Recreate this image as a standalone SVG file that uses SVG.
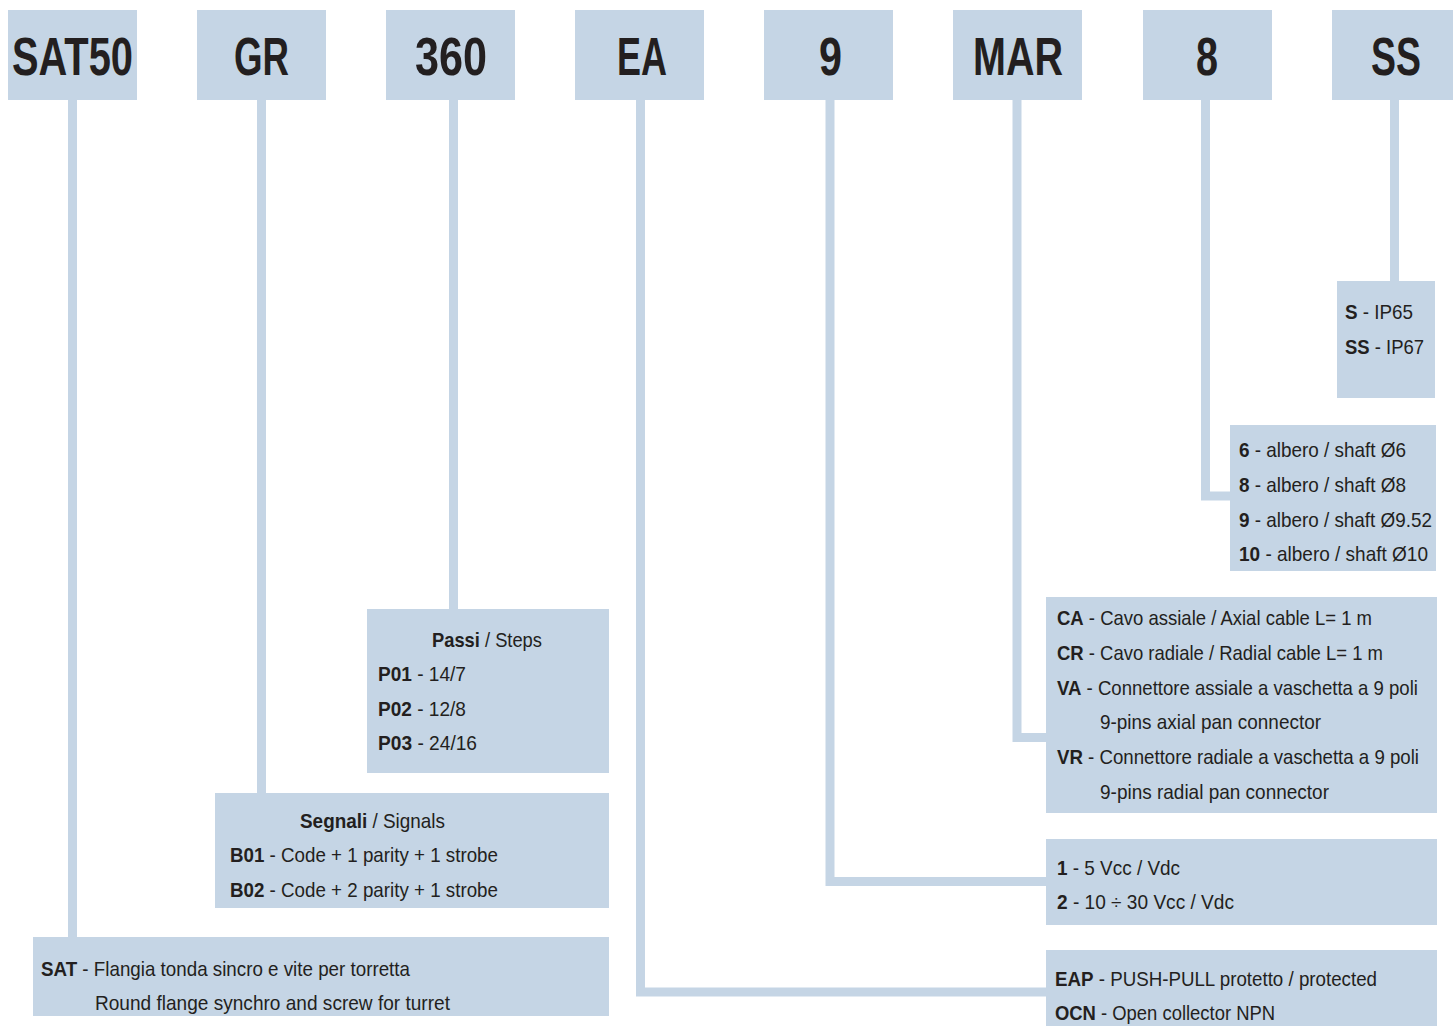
<svg xmlns="http://www.w3.org/2000/svg" width="1453" height="1026" viewBox="0 0 1453 1026">
<style>
.box{fill:#c5d5e5}
.ln{fill:none;stroke:#c5d5e5;stroke-width:9;stroke-linecap:butt;stroke-linejoin:miter}
.t{font-family:"Liberation Sans",Arial,sans-serif;font-size:21px;fill:#231f20}
.h{font-family:"Liberation Sans",Arial,sans-serif;font-size:54px;font-weight:bold;fill:#231f20}
.b{font-weight:bold}
</style>
<rect width="1453" height="1026" fill="#ffffff"/>
<g id="connectors">
<path class="ln" d="M72.5,100 V937"/>
<path class="ln" d="M261.5,100 V793"/>
<path class="ln" d="M453.5,100 V609"/>
<path class="ln" d="M640.5,100 V992 H1047"/>
<path class="ln" d="M830,100 V881.5 H1047"/>
<path class="ln" d="M1017,100 V737.5 H1047"/>
<path class="ln" d="M1205.5,100 V496 H1231"/>
<path class="ln" d="M1394.5,100 V282"/>
</g>
<g id="code-SAT50"><rect class="box" x="8" y="10" width="129" height="90"/><text class="h" transform="matrix(0.72 0 0 1 12 75)" textLength="168" lengthAdjust="spacingAndGlyphs">SAT50</text></g>
<g id="code-GR"><rect class="box" x="197" y="10" width="129" height="90"/><text class="h" transform="matrix(0.72 0 0 1 234 75)" textLength="76.4" lengthAdjust="spacingAndGlyphs">GR</text></g>
<g id="code-360"><rect class="box" x="386" y="10" width="129" height="90"/><text class="h" transform="matrix(0.72 0 0 1 415 75)" textLength="100" lengthAdjust="spacingAndGlyphs">360</text></g>
<g id="code-EA"><rect class="box" x="575" y="10" width="129" height="90"/><text class="h" transform="matrix(0.72 0 0 1 617 75)" textLength="69.4" lengthAdjust="spacingAndGlyphs">EA</text></g>
<g id="code-9"><rect class="box" x="764" y="10" width="129" height="90"/><text class="h" transform="matrix(0.72 0 0 1 819 75)" textLength="31.9" lengthAdjust="spacingAndGlyphs">9</text></g>
<g id="code-MAR"><rect class="box" x="953" y="10" width="129" height="90"/><text class="h" transform="matrix(0.72 0 0 1 973 75)" textLength="125" lengthAdjust="spacingAndGlyphs">MAR</text></g>
<g id="code-8"><rect class="box" x="1143" y="10" width="129" height="90"/><text class="h" transform="matrix(0.72 0 0 1 1196 75)" textLength="30.6" lengthAdjust="spacingAndGlyphs">8</text></g>
<g id="code-SS"><rect class="box" x="1332" y="10" width="121" height="90"/><text class="h" transform="matrix(0.72 0 0 1 1371 75)" textLength="69.4" lengthAdjust="spacingAndGlyphs">SS</text></g>

<g id="opt-SS"><rect class="box" x="1337" y="281" width="98" height="117"/>
<text class="t" transform="matrix(0.87 0 0 1 1345 319)" textLength="78.2" lengthAdjust="spacingAndGlyphs"><tspan class="b">S</tspan> - IP65</text>
<text class="t" transform="matrix(0.87 0 0 1 1345 354)" textLength="90.8" lengthAdjust="spacingAndGlyphs"><tspan class="b">SS</tspan> - IP67</text>
</g>
<g id="opt-8"><rect class="box" x="1230" y="425" width="206" height="146"/>
<text class="t" transform="matrix(0.87 0 0 1 1239 457)" textLength="192" lengthAdjust="spacingAndGlyphs"><tspan class="b">6</tspan> - albero / shaft Ø6</text>
<text class="t" transform="matrix(0.87 0 0 1 1239 492)" textLength="192" lengthAdjust="spacingAndGlyphs"><tspan class="b">8</tspan> - albero / shaft Ø8</text>
<text class="t" transform="matrix(0.87 0 0 1 1239 527)" textLength="221.8" lengthAdjust="spacingAndGlyphs"><tspan class="b">9</tspan> - albero / shaft Ø9.52</text>
<text class="t" transform="matrix(0.87 0 0 1 1239 561)" textLength="217.2" lengthAdjust="spacingAndGlyphs"><tspan class="b">10</tspan> - albero / shaft Ø10</text>
</g>
<g id="opt-MAR"><rect class="box" x="1046" y="597" width="391" height="216"/>
<text class="t" transform="matrix(0.87 0 0 1 1057 625)" textLength="362.1" lengthAdjust="spacingAndGlyphs"><tspan class="b">CA</tspan> - Cavo assiale / Axial cable L= 1 m</text>
<text class="t" transform="matrix(0.87 0 0 1 1057 660)" textLength="374.7" lengthAdjust="spacingAndGlyphs"><tspan class="b">CR</tspan> - Cavo radiale / Radial cable L= 1 m</text>
<text class="t" transform="matrix(0.87 0 0 1 1057 695)" textLength="414.9" lengthAdjust="spacingAndGlyphs"><tspan class="b">VA</tspan> - Connettore assiale a vaschetta a 9 poli</text>
<text class="t" transform="matrix(0.87 0 0 1 1100 729)" textLength="254" lengthAdjust="spacingAndGlyphs">9-pins axial pan connector</text>
<text class="t" transform="matrix(0.87 0 0 1 1057 764)" textLength="416.1" lengthAdjust="spacingAndGlyphs"><tspan class="b">VR</tspan> - Connettore radiale a vaschetta a 9 poli</text>
<text class="t" transform="matrix(0.87 0 0 1 1100 799)" textLength="263.2" lengthAdjust="spacingAndGlyphs">9-pins radial pan connector</text>
</g>
<g id="opt-9"><rect class="box" x="1046" y="839" width="391" height="86"/>
<text class="t" transform="matrix(0.87 0 0 1 1057 875)" textLength="141.4" lengthAdjust="spacingAndGlyphs"><tspan class="b">1</tspan> - 5 Vcc / Vdc</text>
<text class="t" transform="matrix(0.87 0 0 1 1057 909)" textLength="203.4" lengthAdjust="spacingAndGlyphs"><tspan class="b">2</tspan> - 10 ÷ 30 Vcc / Vdc</text>
</g>
<g id="opt-EA"><rect class="box" x="1046" y="950" width="391" height="80"/>
<text class="t" transform="matrix(0.87 0 0 1 1055 986)" textLength="370.1" lengthAdjust="spacingAndGlyphs"><tspan class="b">EAP</tspan> - PUSH-PULL protetto / protected</text>
<text class="t" transform="matrix(0.87 0 0 1 1055 1020)" textLength="252.9" lengthAdjust="spacingAndGlyphs"><tspan class="b">OCN</tspan> - Open collector NPN</text>
</g>
<g id="opt-360"><rect class="box" x="367" y="609" width="242" height="164"/>
<text class="t" transform="matrix(0.87 0 0 1 432 647)" textLength="126.4" lengthAdjust="spacingAndGlyphs"><tspan class="b">Passi</tspan> / Steps</text>
<text class="t" transform="matrix(0.87 0 0 1 378 681)" textLength="101.1" lengthAdjust="spacingAndGlyphs"><tspan class="b">P01</tspan> - 14/7</text>
<text class="t" transform="matrix(0.87 0 0 1 378 716)" textLength="101.1" lengthAdjust="spacingAndGlyphs"><tspan class="b">P02</tspan> - 12/8</text>
<text class="t" transform="matrix(0.87 0 0 1 378 750)" textLength="113.8" lengthAdjust="spacingAndGlyphs"><tspan class="b">P03</tspan> - 24/16</text>
</g>
<g id="opt-GR"><rect class="box" x="215" y="793" width="394" height="115"/>
<text class="t" transform="matrix(0.87 0 0 1 300 828)" textLength="166.7" lengthAdjust="spacingAndGlyphs"><tspan class="b">Segnali</tspan> / Signals</text>
<text class="t" transform="matrix(0.87 0 0 1 230 862)" textLength="308" lengthAdjust="spacingAndGlyphs"><tspan class="b">B01</tspan> - Code + 1 parity + 1 strobe</text>
<text class="t" transform="matrix(0.87 0 0 1 230 897)" textLength="308" lengthAdjust="spacingAndGlyphs"><tspan class="b">B02</tspan> - Code + 2 parity + 1 strobe</text>
</g>
<g id="opt-SAT50"><rect class="box" x="33" y="937" width="576" height="79"/>
<text class="t" transform="matrix(0.87 0 0 1 41 976)" textLength="424.1" lengthAdjust="spacingAndGlyphs"><tspan class="b">SAT</tspan> - Flangia tonda sincro e vite per torretta</text>
<text class="t" transform="matrix(0.87 0 0 1 95 1010)" textLength="408" lengthAdjust="spacingAndGlyphs">Round flange synchro and screw for turret</text>
</g>
</svg>
